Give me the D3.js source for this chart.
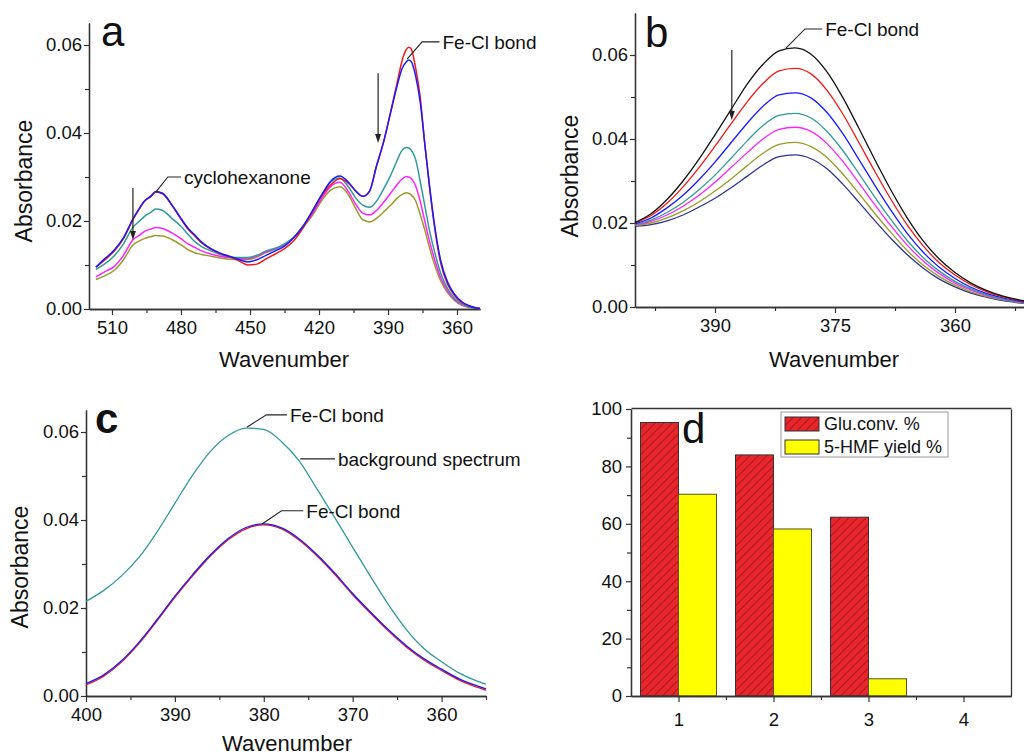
<!DOCTYPE html>
<html>
<head>
<meta charset="utf-8">
<script src="https://cdn.jsdelivr.net/npm/d3@7/dist/d3.min.js"></script>
<style>
  body { margin: 0; background: #fff; }
  svg { display: block; font-family: "Liberation Sans", Arial, sans-serif; }
</style>
</head>
<body>
<svg id="fig" width="1024" height="756"></svg>
<script>
// ---- panel a : spectra, 5 curves
const aWave = [517,513,509,505,501,498,496,493,491,488,484,480,477,474,471,467,463,459,455,451,447,443,439,435,431,427,423,419,
  415,411,407,404,
  401,398,395,392,389,386,384,382,381,380,378,376,374,372,370,367,364,361,358,355,352,350];
const aRed = [0.0095,0.0112,0.0132,0.0160,0.0202,0.0228,0.0244,0.0256,0.0266,0.0262,0.0236,0.0204,0.0182,0.0166,0.0150,0.0136,0.0126,0.0119,0.0110,0.0100,0.0102,0.0114,0.0125,0.0137,0.0155,0.0184,0.0220,0.0256,
  0.0282,0.0296,0.0285,0.0268,
  0.0256,0.0268,0.0325,0.0378,0.0445,0.0515,0.0562,0.0590,0.0595,0.0592,0.0548,0.0482,0.0375,0.0280,0.0195,0.0102,0.0055,0.0030,0.0015,0.0007,0.0003,0.0001];
const aBlue = [0.0095,0.0115,0.0134,0.0162,0.0204,0.0230,0.0245,0.0257,0.0267,0.0263,0.0237,0.0206,0.0184,0.0168,0.0152,0.0137,0.0127,0.0120,0.0113,0.0107,0.0112,0.0122,0.0132,0.0143,0.0162,0.0188,0.0222,0.0258,
  0.0290,0.0302,0.0287,0.0268,
  0.0256,0.0268,0.0325,0.0378,0.0443,0.0508,0.0545,0.0562,0.0566,0.0563,0.0530,0.0470,0.0375,0.0282,0.0200,0.0108,0.0060,0.0033,0.0017,0.0008,0.0003,0.0001];
const aTeal = [0.0090,0.0103,0.0121,0.0148,0.0185,0.0200,0.0210,0.0220,0.0227,0.0224,0.0206,0.0188,0.0170,0.0153,0.0142,0.0132,0.0124,0.0119,0.0117,0.0117,0.0122,0.0132,0.0138,0.0148,0.0163,0.0187,0.0220,0.0256,
  0.0288,0.0298,0.0276,0.0252,
  0.0236,0.0231,0.0245,0.0272,0.0302,0.0338,0.0360,0.0367,0.0366,0.0362,0.0340,0.0290,0.0235,0.0180,0.0135,0.0080,0.0045,0.0024,0.0012,0.0005,0.0002,0.0001];
const aMagenta = [0.0073,0.0085,0.0097,0.0122,0.0157,0.0168,0.0176,0.0182,0.0185,0.0183,0.0173,0.0160,0.0148,0.0140,0.0132,0.0125,0.0120,0.0117,0.0115,0.0115,0.0120,0.0130,0.0137,0.0147,0.0162,0.0186,0.0215,0.0250,
  0.0278,0.0288,0.0265,0.0238,
  0.0218,0.0214,0.0224,0.0242,0.0262,0.0283,0.0295,0.0301,0.0300,0.0297,0.0280,0.0245,0.0200,0.0155,0.0117,0.0070,0.0040,0.0021,0.0010,0.0005,0.0002,0.0001];
const aOlive = [0.0067,0.0076,0.0088,0.0112,0.0145,0.0155,0.0160,0.0165,0.0167,0.0166,0.0158,0.0146,0.0135,0.0128,0.0124,0.0120,0.0116,0.0113,0.0112,0.0112,0.0118,0.0128,0.0136,0.0146,0.0162,0.0185,0.0212,0.0245,
  0.0270,0.0278,0.0258,0.0228,
  0.0203,0.0198,0.0206,0.0220,0.0235,0.0252,0.0260,0.0264,0.0263,0.0260,0.0246,0.0215,0.0180,0.0140,0.0105,0.0063,0.0036,0.0019,0.0009,0.0004,0.0002,0.0001];
const aXTicks = [510,480,450,420,390,360];
const aXMinor = [495,465,435,405,375];

// ---- panel b : 7 curves
const bWave = [400,398,396,394,392,390,388,386,384,382,380,378,376,374,372,370,368,366,364,362,360,358,356,354,352,350];
const bBlack = [0.0201,0.0222,0.0256,0.0300,0.0352,0.0410,0.0470,0.0530,0.0578,0.0610,0.0617,0.0602,0.0560,0.0498,0.0425,0.0350,0.0278,0.0213,0.0158,0.0115,0.0082,0.0057,0.0039,0.0026,0.0017,0.0011];
const bRed = [0.0200,0.0218,0.0247,0.0286,0.0332,0.0383,0.0436,0.0488,0.0532,0.0562,0.0568,0.0555,0.0516,0.0459,0.0391,0.0322,0.0256,0.0196,0.0146,0.0106,0.0076,0.0053,0.0036,0.0024,0.0016,0.0010];
const bBlue = [0.0198,0.0212,0.0236,0.0266,0.0303,0.0345,0.0391,0.0437,0.0478,0.0505,0.0510,0.0498,0.0463,0.0412,0.0351,0.0289,0.0230,0.0176,0.0131,0.0095,0.0068,0.0047,0.0032,0.0022,0.0014,0.0009];
const bTeal = [0.0197,0.0207,0.0225,0.0249,0.0279,0.0314,0.0354,0.0395,0.0432,0.0456,0.0461,0.0450,0.0418,0.0372,0.0317,0.0261,0.0208,0.0159,0.0118,0.0086,0.0061,0.0043,0.0029,0.0019,0.0013,0.0008];
const bMagenta = [0.0196,0.0204,0.0219,0.0240,0.0266,0.0297,0.0332,0.0367,0.0400,0.0423,0.0428,0.0418,0.0389,0.0346,0.0295,0.0243,0.0193,0.0148,0.0110,0.0080,0.0057,0.0040,0.0027,0.0018,0.0012,0.0008];
const bOlive = [0.0195,0.0200,0.0212,0.0229,0.0250,0.0276,0.0305,0.0336,0.0366,0.0387,0.0392,0.0382,0.0356,0.0316,0.0270,0.0222,0.0177,0.0135,0.0100,0.0073,0.0052,0.0036,0.0025,0.0017,0.0011,0.0007];
const bNavy = [0.0192,0.0196,0.0205,0.0219,0.0238,0.0259,0.0284,0.0311,0.0338,0.0358,0.0362,0.0353,0.0329,0.0292,0.0249,0.0205,0.0163,0.0125,0.0093,0.0067,0.0048,0.0033,0.0023,0.0015,0.0010,0.0006];
const bXTicks = [390,375,360];
const bXMinor = [397.5,382.5,367.5,352.5];

// ---- panel c : background + two Fe-Cl curves
const cWave = [400,398,396,394,392,390,388,386,384,382,380,378,376,374,372,370,368,366,364,362,360,358,356,355];
const cBackground = [0.0215,0.0240,0.0273,0.0316,0.0373,0.0438,0.0502,0.0556,0.0592,0.0609,0.0606,0.0578,0.0534,0.0470,0.0405,0.0338,0.0272,0.0208,0.0152,0.0108,0.0078,0.0052,0.0034,0.0027];
const cRed = [0.0025,0.0045,0.0077,0.0120,0.0171,0.0224,0.0273,0.0318,0.0355,0.0380,0.0389,0.0380,0.0354,0.0318,0.0276,0.0230,0.0188,0.0148,0.0112,0.0082,0.0058,0.0036,0.0020,0.0013];
const cBlue = [0.0028,0.0048,0.0080,0.0123,0.0174,0.0227,0.0276,0.0321,0.0358,0.0383,0.0391,0.0382,0.0357,0.0321,0.0279,0.0233,0.0191,0.0151,0.0115,0.0085,0.0061,0.0039,0.0023,0.0016];
const cXTicks = [400,390,380,370,360];
const cXMinor = [395,385,375,365,355];

// ---- panel d : bars
const dRuns = [1,2,3,4];
const dConv = [95.3,84.0,62.3,0];
const dYield = [70.3,58.2,6.0,0];
const dSeries = ["Glu.conv. %","5-HMF yield %"];

const absTicks = [0,0.02,0.04,0.06];
const absMinor = [0.01,0.03,0.05];

const col = {black:"#111", red:"#f01818", blue:"#1a1aff", teal:"#2f9a9a", magenta:"#ff22ff",
             olive:"#9c9a28", navy:"#2c3490"};

const svg = d3.select("#fig");
const FS = 18.5;

function styleAxis(g){
  g.selectAll("path.domain").attr("stroke","#333").attr("stroke-width",1.3);
  g.selectAll(".tick line").attr("stroke","#333").attr("stroke-width",1.2);
  g.selectAll(".tick text").attr("font-size",FS).attr("fill","#111")
    .attr("font-family","'Liberation Sans', Arial, sans-serif");
}

function spectrumPanel(o){
  const x = d3.scaleLinear().domain(o.xDomain).range(o.xRange);
  const y = d3.scaleLinear().domain(o.yDomain).range(o.yRange);
  const g = svg.append("g");
  const bottom = o.yRange[0], left = o.xRange[0];

  g.append("g").attr("transform",`translate(0,${bottom})`)
    .call(d3.axisBottom(x).tickValues(o.xMinor).tickSize(4).tickFormat("").tickSizeOuter(0))
    .call(styleAxis);
  g.append("g").attr("transform",`translate(0,${bottom})`)
    .call(d3.axisBottom(x).tickValues(o.xTicks).tickSize(6).tickPadding(6).tickFormat(d3.format("d")).tickSizeOuter(0))
    .call(styleAxis);
  g.append("g").attr("transform",`translate(${left},0)`)
    .call(d3.axisLeft(y).tickValues(absMinor).tickSize(4).tickFormat("").tickSizeOuter(0))
    .call(styleAxis);
  g.append("g").attr("transform",`translate(${left},0)`)
    .call(d3.axisLeft(y).tickValues(absTicks).tickSize(5).tickPadding(2).tickFormat(d3.format(".2f")).tickSizeOuter(0))
    .call(styleAxis);

  const line = d3.line().x(d => x(d[0])).y(d => y(d[1])).curve(d3.curveMonotoneX);
  o.series.forEach(s => {
    g.append("path")
      .datum(o.wave.map((w,i) => [w, s.values[i]]))
      .attr("d", line)
      .attr("fill","none")
      .attr("stroke", s.color)
      .attr("stroke-width", o.lw)
      .attr("stroke-linejoin","round");
  });

  // leaders and labels
  (o.notes || []).forEach(n => {
    g.append("path")
      .attr("d", d3.line().x(d => x(d[0])).y(d => y(d[1]))(n.pts))
      .attr("fill","none").attr("stroke","#222").attr("stroke-width",1.1);
    const last = n.pts[n.pts.length-1];
    g.append("text").attr("x", x(last[0]) + 3).attr("y", y(last[1]))
      .attr("dy","0.36em").attr("font-size",19).attr("fill","#111").text(n.text);
  });
  (o.arrows || []).forEach(a => {
    const ax = x(a[0]), y0 = y(a[1]), y1 = y(a[2]);
    g.append("line").attr("x1",ax).attr("x2",ax).attr("y1",y0).attr("y2",y1 - 6)
      .attr("stroke","#222").attr("stroke-width",1.2);
    g.append("path").attr("d",`M${ax-3},${y1-9}L${ax+3},${y1-9}L${ax},${y1}Z`).attr("fill","#222");
  });

  g.append("text").attr("transform",`translate(${o.yTitle[0]},${o.yTitle[1]}) rotate(-90)`)
    .attr("text-anchor","middle").attr("font-size",23).attr("fill","#111").text("Absorbance");
  g.append("text").attr("x",o.xTitle[0]).attr("y",o.xTitle[1])
    .attr("text-anchor","middle").attr("font-size",22).attr("fill","#111").text("Wavenumber");
  g.append("text").attr("x",o.tag[0]).attr("y",o.tag[1])
    .attr("font-size",42).attr("font-weight",o.tagBold ? "bold" : "normal").attr("fill","#111").text(o.tag[2]);
}

// a
spectrumPanel({
  xDomain:[520,350], xRange:[89,480], yDomain:[0,0.065], yRange:[309,23],
  xTicks:aXTicks, xMinor:aXMinor, wave:aWave, lw:1.5,
  series:[
    {values:aOlive,color:col.olive},{values:aMagenta,color:col.magenta},{values:aTeal,color:col.teal},
    {values:aRed,color:col.red},{values:aBlue,color:col.blue}],
  notes:[
    {pts:[[490.9,0.0266],[485.7,0.0300],[480.0,0.0300]], text:"cyclohexanone"},
    {pts:[[381.7,0.0568],[375.2,0.0607],[367.6,0.0607]], text:"Fe-Cl bond"}],
  arrows:[[500.9,0.0275,0.0157],[394.3,0.0536,0.0377]],
  yTitle:[32,181], xTitle:[284,367], tag:[101,46,"a"]
});

// b
spectrumPanel({
  xDomain:[400,350], xRange:[635,1035], yDomain:[0,0.07], yRange:[307,13],
  xTicks:bXTicks, xMinor:bXMinor, wave:bWave, lw:1.3,
  series:[
    {values:bNavy,color:col.navy},{values:bOlive,color:col.olive},{values:bMagenta,color:col.magenta},
    {values:bTeal,color:col.teal},{values:bBlue,color:col.blue},{values:bRed,color:col.red},
    {values:bBlack,color:col.black}],
  notes:[{pts:[[381.1,0.0617],[378.75,0.0662],[376.6,0.0662]], text:"Fe-Cl bond"}],
  arrows:[[387.9,0.0612,0.0445]],
  yTitle:[578,176], xTitle:[834,367], tag:[645,47,"b"]
});

// c
spectrumPanel({
  xDomain:[400,355], xRange:[86,486], yDomain:[0,0.065], yRange:[696,410],
  xTicks:cXTicks, xMinor:cXMinor, wave:cWave, lw:1.3,
  series:[
    {values:cBackground,color:col.teal},{values:cRed,color:col.red},{values:cBlue,color:col.blue}],
  notes:[
    {pts:[[381.9,0.0611],[379.7,0.0639],[377.4,0.0639]], text:"Fe-Cl bond"},
    {pts:[[375.9,0.0539],[372.0,0.0539]], text:"background spectrum"},
    {pts:[[380.2,0.0391],[378.0,0.0421],[375.55,0.0421]], text:"Fe-Cl bond"}],
  arrows:[],
  yTitle:[28,567], xTitle:[287,751], tag:[95,433,"c"], tagBold:true
});

// d
(function(){
  const x = d3.scaleLinear().domain([0.5,4.5]).range([631,1011]);
  const y = d3.scaleLinear().domain([0,100]).range([696,409]);
  const g = svg.append("g");

  const defs = svg.append("defs");
  const pat = defs.append("pattern").attr("id","hatch").attr("patternUnits","userSpaceOnUse")
    .attr("width",6).attr("height",6).attr("patternTransform","rotate(45)");
  pat.append("rect").attr("width",6).attr("height",6).attr("fill","#e8262c");
  pat.append("line").attr("x1",0).attr("y1",0).attr("x2",0).attr("y2",6)
    .attr("stroke","#7a1214").attr("stroke-width",1.2);

  const bw = 0.4;
  g.selectAll("rect.conv").data(dRuns.map((r,i)=>({r, v:dConv[i]})).filter(d=>d.v>0)).join("rect")
    .attr("x",d=>x(d.r-bw)).attr("width",d=>x(d.r)-x(d.r-bw))
    .attr("y",d=>y(d.v)).attr("height",d=>y(0)-y(d.v))
    .attr("fill","url(#hatch)").attr("stroke","#333").attr("stroke-width",1);
  g.selectAll("rect.yield").data(dRuns.map((r,i)=>({r, v:dYield[i]})).filter(d=>d.v>0)).join("rect")
    .attr("x",d=>x(d.r)).attr("width",d=>x(d.r+bw)-x(d.r))
    .attr("y",d=>y(d.v)).attr("height",d=>y(0)-y(d.v))
    .attr("fill","#ffff00").attr("stroke","#555522").attr("stroke-width",1);

  g.append("g").attr("transform","translate(0,696)")
    .call(d3.axisBottom(x).tickValues([1.5,2.5,3.5]).tickSize(4).tickFormat("").tickSizeOuter(0)).call(styleAxis);
  g.append("g").attr("transform","translate(0,696)")
    .call(d3.axisBottom(x).tickValues(dRuns).tickSize(6).tickPadding(11).tickFormat(d3.format("d")).tickSizeOuter(0)).call(styleAxis);
  g.append("g").attr("transform","translate(631,0)")
    .call(d3.axisLeft(y).tickValues([10,30,50,70,90]).tickSize(4).tickFormat("").tickSizeOuter(0)).call(styleAxis);
  g.append("g").attr("transform","translate(631,0)")
    .call(d3.axisLeft(y).tickValues([0,20,40,60,80,100]).tickSize(5).tickPadding(4).tickFormat(d3.format("d")).tickSizeOuter(0)).call(styleAxis);
  g.append("g").attr("transform","translate(0,408)")
    .call(d3.axisTop(x).tickValues([]).tickSizeOuter(0)).call(styleAxis);
  g.append("g").attr("transform","translate(1011,0)")
    .call(d3.axisRight(y).tickValues([]).tickSizeOuter(0)).call(styleAxis);

  // legend
  const lg = g.append("g").attr("transform","translate(781,412)");
  lg.append("rect").attr("width",167).attr("height",45).attr("fill","#fff").attr("stroke","#999").attr("stroke-width",1);
  const fills = ["url(#hatch)","#ffff00"];
  dSeries.forEach((s,i) => {
    lg.append("rect").attr("x",4).attr("y",5 + i*23).attr("width",34).attr("height",14)
      .attr("fill",fills[i]).attr("stroke","#333").attr("stroke-width",1);
    lg.append("text").attr("x",43).attr("y",12 + i*23).attr("dy","0.36em")
      .attr("font-size",18).attr("fill","#111").text(s);
  });

  g.append("text").attr("x",682).attr("y",443).attr("font-size",42).attr("fill","#111").text("d");
})();
</script>
</body>
</html>
